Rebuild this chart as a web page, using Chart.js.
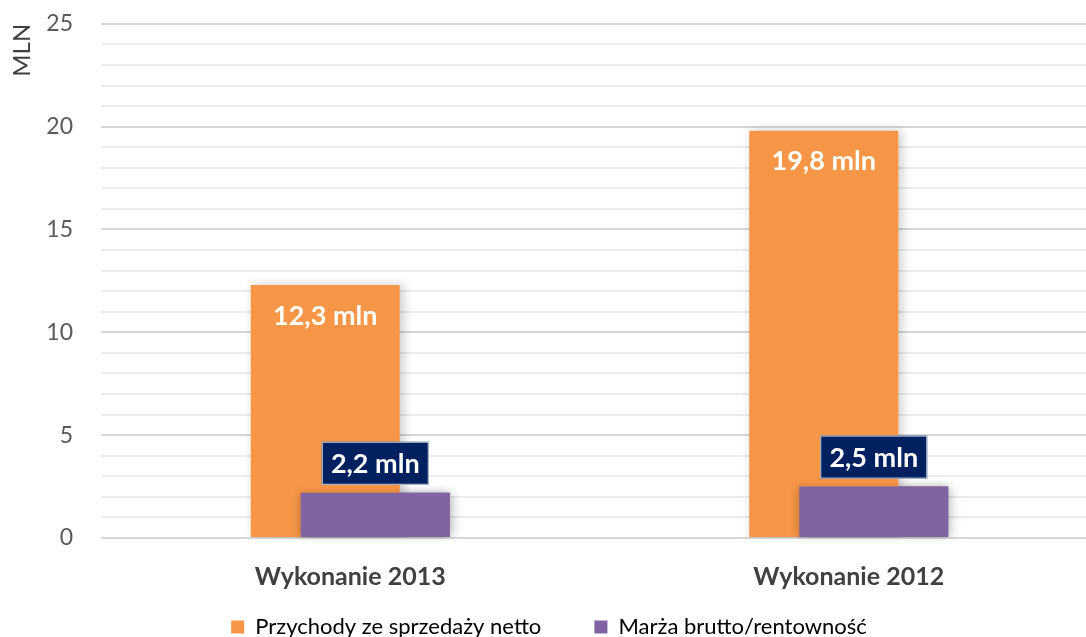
<!DOCTYPE html>
<html>
<head>
<meta charset="utf-8">
<script src="https://cdn.jsdelivr.net/npm/chart.js@4.4.1/dist/chart.umd.min.js"></script>
<style>
  html, body { margin: 0; padding: 0; background: #fff; overflow: hidden; }
  #wrap { width: 1098px; height: 666px; position: relative; top: -18px; }
</style>
</head>
<body>
<div id="wrap"><canvas id="salesChart"></canvas></div>
<script>
// values, in millions
const categories = ['Wykonanie 2013', 'Wykonanie 2012'];
const revenue = [12.3, 19.8];
const margin = [2.2, 2.5];
const seriesNames = ['Przychody ze sprzedaży netto', 'Marża brutto/rentowność'];
const yTicks = [0, 5, 10, 15, 20, 25];

const orange = '#F79646';
const purple = '#8064A2';
const navy = '#002060';
const font = 'Lato, "Open Sans", sans-serif';

const fmt = v => v.toFixed(1).replace('.', ',') + ' mln';

// soft shadow behind the bars, and purple redrawn on top of orange
const barShadow = {
    id: 'barShadow',
    beforeDatasetDraw(chart) {
        const ctx = chart.ctx;
        ctx.save();
        ctx.shadowColor = 'rgba(0,0,0,0.22)';
        ctx.shadowBlur = 10;
        ctx.shadowOffsetX = 3;
        ctx.shadowOffsetY = 0;
    },
    afterDatasetDraw(chart) {
        chart.ctx.restore();
    },
    afterDatasetsDraw(chart) {
        const ctx = chart.ctx;
        ctx.save();
        ctx.shadowColor = 'rgba(0,0,0,0.18)';
        ctx.shadowBlur = 8;
        ctx.shadowOffsetX = -2;
        chart.getDatasetMeta(1).data.forEach(bar => bar.draw(ctx));
        ctx.restore();
    }
};

const valueLabels = {
    id: 'valueLabels',
    afterDatasetsDraw(chart) {
        const ctx = chart.ctx;
        ctx.save();
        ctx.font = 'bold 27px ' + font;
        ctx.textAlign = 'center';
        ctx.textBaseline = 'middle';

        // revenue: white text inside the top of the bar
        chart.getDatasetMeta(0).data.forEach((bar, i) => {
            ctx.fillStyle = '#ffffff';
            ctx.fillText(fmt(revenue[i]), bar.x, bar.y + 31);
        });

        // margin: white text on a navy box above the bar
        chart.getDatasetMeta(1).data.forEach((bar, i) => {
            const txt = fmt(margin[i]);
            const w = 107, h = 43;
            const cy = bar.y - 8 - h / 2;
            ctx.fillStyle = navy;
            ctx.fillRect(bar.x - w / 2, cy - h / 2, w, h);
            ctx.strokeStyle = '#c9d0e0';
            ctx.lineWidth = 1;
            ctx.strokeRect(bar.x - w / 2 + 0.5, cy - h / 2 + 0.5, w - 1, h - 1);
            ctx.fillStyle = '#ffffff';
            ctx.fillText(txt, bar.x, cy + 1);
        });
        ctx.restore();
    }
};

new Chart(document.getElementById('salesChart'), {
    type: 'bar',
    data: {
        labels: categories,
        datasets: [
            {
                label: seriesNames[0],
                data: revenue,
                backgroundColor: orange,
                categoryPercentage: 0.2006,
                barPercentage: 2.98,
            },
            {
                label: seriesNames[1],
                data: margin,
                backgroundColor: purple,
                categoryPercentage: 0.2006,
                barPercentage: 2.98,
            },
        ],
    },
    options: {
        responsive: true,
        maintainAspectRatio: false,
        animation: false,
        layout: { padding: { top: 0, right: 0, left: 0, bottom: 0 } },
        plugins: {
            tooltip: { enabled: false },
            legend: {
                position: 'bottom',
                labels: {
                    boxWidth: 13,
                    boxHeight: 13,
                    padding: 8,
                    color: '#595959',
                    font: { family: font, size: 22 },
                    // extra spaces after the first name widen the gap between items
                    generateLabels: chart => chart.data.datasets.map((ds, i) => ({
                        text: i === 0 ? ds.label + '        ' : ds.label,
                        fillStyle: ds.backgroundColor,
                        strokeStyle: ds.backgroundColor,
                        lineWidth: 0,
                        datasetIndex: i,
                    })),
                },
            },
        },
        scales: {
            x: {
                grid: { display: false },
                border: { display: false },
                ticks: {
                    color: '#404040',
                    padding: 16,
                    font: { family: font, size: 25, weight: 'bold' },
                },
            },
            y: {
                min: 0,
                max: 25,
                border: { display: false },
                grid: {
                    drawTicks: false,
                    lineWidth: 2,
                    color: c => (c.tick && c.tick.value % 5 === 0) ? '#d6d6d6' : '#ececec',
                },
                ticks: {
                    stepSize: 1,
                    autoSkip: false,
                    padding: 28,
                    color: '#595959',
                    font: { family: font, size: 23 },
                    callback: v => yTicks.includes(v) ? String(v) : '',
                },
                title: {
                    display: true,
                    text: 'MLN',
                    align: 'end',
                    color: '#404040',
                    padding: { top: 8, bottom: 0 },
                    font: { family: font, size: 24 },
                },
                afterFit: scale => { scale.width = 101; },
            },
        },
    },
    plugins: [barShadow, valueLabels],
});
</script>
</body>
</html>
